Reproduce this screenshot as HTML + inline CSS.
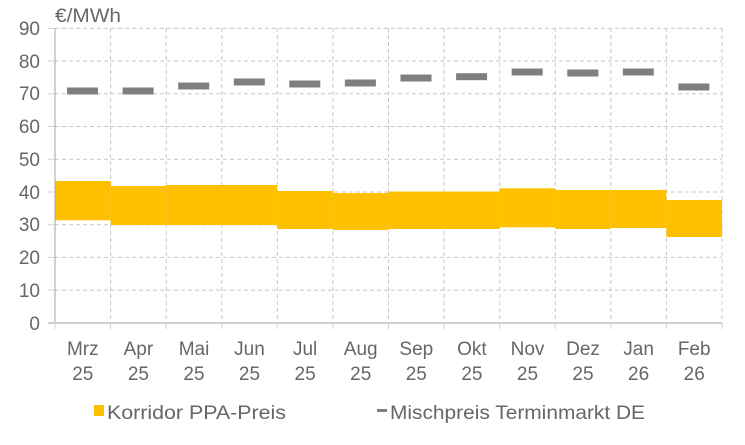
<!DOCTYPE html>
<html><head><style>body{margin:0;background:#fff}svg{display:block}text{font-family:"Liberation Sans",Arial,sans-serif;fill:#666}</style></head>
<body>
<svg width="745" height="445" viewBox="0 0 745 445">
<g stroke="#c8c8c8" stroke-dasharray="4,3" stroke-width="1">
<line x1="55" x2="722" y1="28.4" y2="28.4"/><line x1="55" x2="722" y1="61.1" y2="61.1"/><line x1="55" x2="722" y1="93.8" y2="93.8"/><line x1="55" x2="722" y1="126.5" y2="126.5"/><line x1="55" x2="722" y1="159.2" y2="159.2"/><line x1="55" x2="722" y1="192" y2="192"/><line x1="55" x2="722" y1="224.7" y2="224.7"/><line x1="55" x2="722" y1="257.4" y2="257.4"/><line x1="55" x2="722" y1="290.1" y2="290.1"/>
<line x1="110.6" x2="110.6" y1="28" y2="323"/><line x1="166.2" x2="166.2" y1="28" y2="323"/><line x1="221.8" x2="221.8" y1="28" y2="323"/><line x1="277.3" x2="277.3" y1="28" y2="323"/><line x1="332.9" x2="332.9" y1="28" y2="323"/><line x1="388.5" x2="388.5" y1="28" y2="323"/><line x1="444.1" x2="444.1" y1="28" y2="323"/><line x1="499.7" x2="499.7" y1="28" y2="323"/><line x1="555.3" x2="555.3" y1="28" y2="323"/><line x1="610.8" x2="610.8" y1="28" y2="323"/><line x1="666.4" x2="666.4" y1="28" y2="323"/><line x1="722" x2="722" y1="28" y2="323"/>
</g>
<g fill="#ffc000">
<rect x="55" y="181" width="55.6" height="39.3"/>
<rect x="110.6" y="186" width="55.6" height="39"/>
<rect x="166.2" y="185" width="111.1" height="40"/>
<rect x="277.3" y="191" width="55.6" height="38"/>
<rect x="332.9" y="193" width="55.6" height="37"/>
<rect x="388.5" y="191.5" width="111.2" height="37.5"/>
<rect x="499.7" y="188.3" width="55.6" height="39"/>
<rect x="555.3" y="190" width="55.5" height="39"/>
<rect x="610.8" y="190" width="55.6" height="38"/>
<rect x="666.4" y="200" width="55.6" height="37"/>
</g>
<g fill="#7f7f7f">
<rect x="67" y="87.5" width="31" height="7"/><rect x="122.6" y="87.5" width="31" height="7"/><rect x="178.2" y="82.5" width="31" height="7"/><rect x="233.8" y="78.5" width="31" height="7"/><rect x="289.3" y="80.5" width="31" height="7"/><rect x="344.9" y="79.5" width="31" height="7"/><rect x="400.5" y="74.5" width="31" height="7"/><rect x="456.1" y="73.2" width="31" height="7"/><rect x="511.7" y="68.5" width="31" height="7"/><rect x="567.3" y="69.5" width="31" height="7"/><rect x="622.8" y="68.5" width="31" height="7"/><rect x="678.4" y="83.5" width="31" height="7"/>
</g>
<line x1="55" x2="55" y1="28" y2="323" stroke="#a6a6a6"/>
<line x1="48" x2="722" y1="323" y2="323" stroke="#d0d0d0" stroke-width="2"/>
<g stroke="#d0d0d0" stroke-width="1">
<line x1="48" x2="55" y1="28.4" y2="28.4"/><line x1="48" x2="55" y1="61.1" y2="61.1"/><line x1="48" x2="55" y1="93.8" y2="93.8"/><line x1="48" x2="55" y1="126.5" y2="126.5"/><line x1="48" x2="55" y1="159.2" y2="159.2"/><line x1="48" x2="55" y1="192" y2="192"/><line x1="48" x2="55" y1="224.7" y2="224.7"/><line x1="48" x2="55" y1="257.4" y2="257.4"/><line x1="48" x2="55" y1="290.1" y2="290.1"/>
<line x1="55" x2="55" y1="323" y2="329"/><line x1="110.6" x2="110.6" y1="323" y2="329"/><line x1="166.2" x2="166.2" y1="323" y2="329"/><line x1="221.8" x2="221.8" y1="323" y2="329"/><line x1="277.3" x2="277.3" y1="323" y2="329"/><line x1="332.9" x2="332.9" y1="323" y2="329"/><line x1="388.5" x2="388.5" y1="323" y2="329"/><line x1="444.1" x2="444.1" y1="323" y2="329"/><line x1="499.7" x2="499.7" y1="323" y2="329"/><line x1="555.3" x2="555.3" y1="323" y2="329"/><line x1="610.8" x2="610.8" y1="323" y2="329"/><line x1="666.4" x2="666.4" y1="323" y2="329"/><line x1="722" x2="722" y1="323" y2="329"/>
</g>
<g font-size="19" text-anchor="end">
<text x="40" y="35">90</text><text x="40" y="68">80</text><text x="40" y="100">70</text><text x="40" y="133">60</text><text x="40" y="166">50</text><text x="40" y="199">40</text><text x="40" y="231">30</text><text x="40" y="264">20</text><text x="40" y="297">10</text><text x="40" y="330">0</text>
</g>
<text x="55" y="22" font-size="19" textLength="66" lengthAdjust="spacingAndGlyphs">€/MWh</text>
<g font-size="19" text-anchor="middle">
<text x="82.8" y="355">Mrz</text><text x="82.8" y="380">25</text>
<text x="138.4" y="355">Apr</text><text x="138.4" y="380">25</text>
<text x="194" y="355">Mai</text><text x="194" y="380">25</text>
<text x="249.5" y="355">Jun</text><text x="249.5" y="380">25</text>
<text x="305.1" y="355">Jul</text><text x="305.1" y="380">25</text>
<text x="360.7" y="355">Aug</text><text x="360.7" y="380">25</text>
<text x="416.3" y="355">Sep</text><text x="416.3" y="380">25</text>
<text x="471.9" y="355">Okt</text><text x="471.9" y="380">25</text>
<text x="527.5" y="355">Nov</text><text x="527.5" y="380">25</text>
<text x="583" y="355">Dez</text><text x="583" y="380">25</text>
<text x="638.6" y="355">Jan</text><text x="638.6" y="380">26</text>
<text x="694.2" y="355">Feb</text><text x="694.2" y="380">26</text>
</g>
<rect x="94" y="405" width="10" height="11" fill="#ffc000"/>
<text x="107" y="419" font-size="19" textLength="179" lengthAdjust="spacingAndGlyphs">Korridor PPA-Preis</text>
<rect x="377" y="409" width="10" height="3" fill="#7f7f7f"/>
<text x="390" y="419" font-size="19" textLength="255" lengthAdjust="spacingAndGlyphs">Mischpreis Terminmarkt DE</text>
</svg>
</body></html>
